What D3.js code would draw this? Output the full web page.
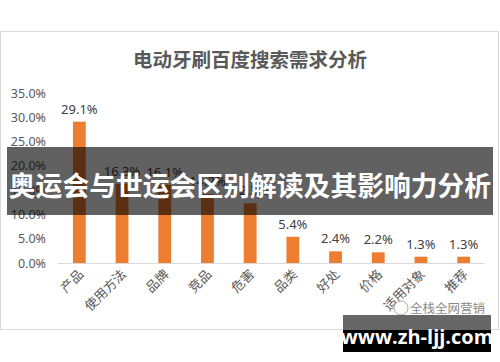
<!DOCTYPE html>
<html>
<head>
<meta charset="utf-8">
<script src="https://d3js.org/d3.v7.min.js"></script>
<style>
body {margin:0; background:#fff;}
svg {display:block; font-family:"Noto Sans CJK SC", "Noto Sans", sans-serif;}
</style>
</head>
<body>
<svg width="500" height="362"></svg>
<script>
var categories = ["产品", "使用方法", "品牌", "竞品", "危害", "品类", "好处", "价格", "适用对象", "推荐"];
var shares = [29.1, 16.3, 16.1, 14.2, 12.3, 5.4, 2.4, 2.2, 1.3, 1.3];
var yTicks = [0, 5, 10, 15, 20, 25, 30, 35];

var svg = d3.select("svg");

// chart frame
svg.append("rect")
  .attr("x", 0.5).attr("y", 31.5).attr("width", 498).attr("height", 298)
  .attr("fill", "#fff").attr("stroke", "#d9d9d9");

svg.append("text")
  .attr("x", 250).attr("y", 67)
  .attr("text-anchor", "middle")
  .attr("font-size", 19.5).attr("font-weight", "bold")
  .attr("fill", "#595959")
  .text("电动牙刷百度搜索需求分析");

var x = d3.scaleBand().domain(categories).range([58, 485]).paddingInner(0.7).paddingOuter(0.35);
var y = d3.scaleLinear().domain([0, 35]).range([263, 93]);

// y axis labels
var yAxis = svg.append("g")
  .attr("transform", "translate(46,0)")
  .call(d3.axisLeft(y).tickValues(yTicks).tickSize(0).tickPadding(0)
    .tickFormat(function(d) { return d.toFixed(1) + "%"; }));
yAxis.select(".domain").remove();
yAxis.selectAll("text").attr("fill", "#595959").attr("font-size", 12.5)
  .attr("font-family", "\"Noto Sans\", sans-serif");

// bars
svg.append("g").selectAll("rect")
  .data(shares)
  .join("rect")
  .attr("x", function(d, i) { return x(categories[i]); })
  .attr("y", function(d) { return y(d); })
  .attr("width", x.bandwidth())
  .attr("height", function(d) { return y(0) - y(d); })
  .attr("fill", "#ed7d31");

// baseline
svg.append("line")
  .attr("x1", 58).attr("x2", 485)
  .attr("y1", y(0) + 0.5).attr("y2", y(0) + 0.5)
  .attr("stroke", "#d9d9d9");

// value labels
svg.append("g").selectAll("text")
  .data(shares)
  .join("text")
  .attr("x", function(d, i) { return x(categories[i]) + x.bandwidth() / 2; })
  .attr("y", function(d) { return y(d) - 8; })
  .attr("text-anchor", "middle")
  .attr("font-size", 13)
  .attr("font-family", "\"Noto Sans\", sans-serif")
  .attr("fill", "#404040")
  .text(function(d) { return d.toFixed(1) + "%"; });

// category labels
svg.append("g").selectAll("text")
  .data(categories)
  .join("text")
  .attr("transform", function(d) {
    return "translate(" + (x(d) + x.bandwidth() / 2 + 5) + ",275) rotate(-45)";
  })
  .attr("text-anchor", "end")
  .attr("font-size", 13)
  .attr("fill", "#595959")
  .text(function(d) { return d; });

// banner overlay
svg.append("rect")
  .attr("x", 7).attr("y", 147).attr("width", 486).attr("height", 68)
  .attr("fill", "#000").attr("fill-opacity", 0.62);
svg.append("text")
  .attr("x", 250).attr("y", 196)
  .attr("text-anchor", "middle")
  .attr("font-size", 26.8).attr("font-weight", "bold")
  .attr("fill", "#fff")
  .text("奥运会与世运会区别解读及其影响力分析");

// watermark logo
svg.append("circle")
  .attr("cx", 401).attr("cy", 308).attr("r", 7)
  .attr("fill", "#fff").attr("stroke", "#aaa");
svg.append("text")
  .attr("x", 410).attr("y", 313)
  .attr("font-size", 12.5)
  .attr("fill", "#8a8a8a")
  .text("全栈全网营销");

// site stamp
svg.append("rect")
  .attr("x", 343).attr("y", 315).attr("width", 148).attr("height", 15)
  .attr("fill", "#666");
svg.append("rect")
  .attr("x", 343).attr("y", 330).attr("width", 148).attr("height", 22)
  .attr("fill", "#000");
svg.append("text")
  .attr("x", 417).attr("y", 344)
  .attr("text-anchor", "middle")
  .attr("font-size", 20).attr("font-weight", "bold")
  .attr("font-family", "\"Open Sans\", \"Noto Sans\", sans-serif")
  .attr("fill", "#fff")
  .text("www.zh-ljj.com");
</script>
</body>
</html>
